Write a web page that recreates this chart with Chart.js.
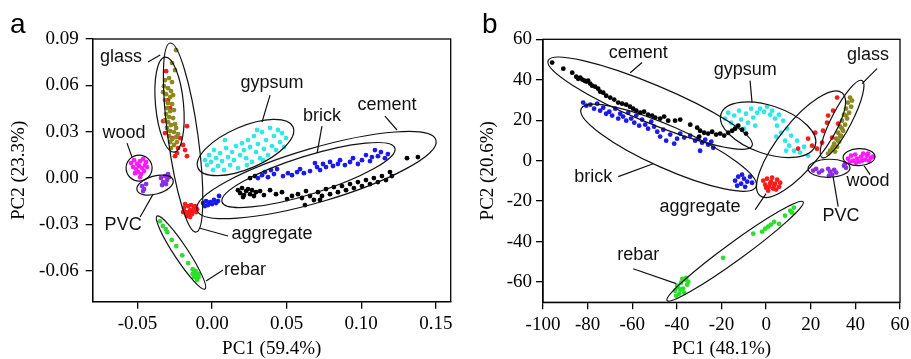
<!DOCTYPE html>
<html><head><meta charset="utf-8">
<script src="https://cdn.jsdelivr.net/npm/chart.js@4.4.1/dist/chart.umd.min.js"></script>
<style>
html,body{margin:0;padding:0;background:#fff;width:911px;height:359px;overflow:hidden}
canvas{position:absolute;top:0}
#ca{left:0;width:455px;height:359px}
#cb{left:455px;width:456px;height:359px}
</style></head><body>
<canvas id="ca" width="455" height="359"></canvas>
<canvas id="cb" width="456" height="359"></canvas>
<script>
// ---------- Panel a data (PC1 59.4%, PC2 23.3%) ----------
const aXTicks = [-0.05, 0, 0.05, 0.10, 0.15];
const aXTickLabels = ['-0.05', '0.00', '0.05', '0.10', '0.15'];
const aYTicks = [-0.06, -0.03, 0, 0.03, 0.06, 0.09];
const aYTickLabels = ['-0.06', '-0.03', '0.00', '0.03', '0.06', '0.09'];

const aGlass = [[-0.0241,0.0828],[-0.0268,0.0744],[-0.0248,0.0699],[-0.0315,0.0634],[-0.0288,0.0647],[-0.0268,0.0621],[-0.0322,0.0595],[-0.0295,0.0582],[-0.0275,0.0563],[-0.0308,0.0543],[-0.0281,0.0524],[-0.0261,0.0537],[-0.0315,0.0505],[-0.0295,0.0485],[-0.0268,0.0479],[-0.0302,0.0453],[-0.0281,0.0433],[-0.0255,0.0440],[-0.0308,0.0414],[-0.0288,0.0395],[-0.0261,0.0388],[-0.0295,0.0362],[-0.0275,0.0343],[-0.0248,0.0349],[-0.0302,0.0324],[-0.0281,0.0304],[-0.0255,0.0298],[-0.0288,0.0272],[-0.0268,0.0252],[-0.0241,0.0265],[-0.0281,0.0233],[-0.0255,0.0214],[-0.0275,0.0194],[-0.0235,0.0233],[-0.0328,0.0556],[-0.0241,0.0324],[-0.0315,0.0375],[-0.0228,0.0285]];
const aAggregate = [[-0.0308,0.0692],[-0.0295,0.0505],[-0.0281,0.0453],[-0.0328,0.0369],[-0.0315,0.0291],[-0.0168,0.0336],[-0.0194,0.0214],[-0.0235,0.0162],[-0.0168,0.0142],[-0.0248,0.0142],[-0.0268,0.0259],[-0.0214,0.0259],[-0.0228,0.0194],[-0.0181,0.0181],[-0.0188,-0.0194],[-0.0174,-0.0220],[-0.0161,-0.0181],[-0.0147,-0.0207],[-0.0134,-0.0233],[-0.0121,-0.0194],[-0.0107,-0.0220],[-0.0168,-0.0246],[-0.0141,-0.0175],[-0.0127,-0.0214],[-0.0154,-0.0226],[-0.0181,-0.0168],[-0.0114,-0.0181],[-0.0101,-0.0201],[-0.0147,-0.0252],[-0.0194,-0.0220]];
const aWood = [[-0.0543,0.0097],[-0.0523,0.0116],[-0.0503,0.0091],[-0.0482,0.0110],[-0.0462,0.0123],[-0.0442,0.0104],[-0.0529,0.0071],[-0.0509,0.0058],[-0.0489,0.0078],[-0.0469,0.0065],[-0.0449,0.0084],[-0.0496,0.0039],[-0.0476,0.0026],[-0.0456,0.0045],[-0.0516,0.0032],[-0.0482,0.0006],[-0.0436,0.0071]];
const aPVC = [[-0.0469,-0.0052],[-0.0456,-0.0071],[-0.0442,-0.0039],[-0.0462,-0.0084],[-0.0342,0.0000],[-0.0328,-0.0026],[-0.0315,0.0013],[-0.0302,-0.0013],[-0.0288,0.0006],[-0.0335,-0.0045],[-0.0308,-0.0039],[-0.0295,0.0026]];
const aGypsum = [[-0.0047,0.0116],[-0.0034,0.0084],[-0.0020,0.0149],[-0.0007,0.0104],[0.0007,0.0052],[0.0013,0.0181],[0.0027,0.0129],[0.0040,0.0078],[0.0054,0.0162],[0.0067,0.0110],[0.0080,0.0052],[0.0094,0.0194],[0.0107,0.0136],[0.0121,0.0084],[0.0134,0.0168],[0.0147,0.0116],[0.0161,0.0207],[0.0174,0.0065],[0.0188,0.0149],[0.0201,0.0226],[0.0214,0.0181],[0.0228,0.0129],[0.0241,0.0246],[0.0255,0.0201],[0.0268,0.0104],[0.0281,0.0272],[0.0295,0.0168],[0.0308,0.0220],[0.0322,0.0129],[0.0335,0.0298],[0.0348,0.0188],[0.0362,0.0246],[0.0375,0.0149],[0.0389,0.0324],[0.0402,0.0207],[0.0415,0.0272],[0.0429,0.0181],[0.0442,0.0311],[0.0456,0.0233],[0.0469,0.0291],[0.0482,0.0201],[0.0496,0.0259],[0.0302,0.0311],[0.0342,0.0116],[0.0234,0.0084],[0.0087,0.0246]];
const aBrick = [[-0.0060,-0.0162],[-0.0040,-0.0149],[-0.0027,-0.0175],[-0.0013,-0.0155],[0.0000,-0.0168],[0.0013,-0.0142],[0.0027,-0.0162],[0.0040,-0.0149],[-0.0047,-0.0181],[0.0047,-0.0116],[0.0308,0.0000],[0.0335,0.0019],[0.0355,0.0039],[0.0375,0.0006],[0.0395,0.0052],[0.0415,0.0026],[0.0436,0.0058],[0.0476,0.0013],[0.0509,0.0032],[0.0536,0.0019],[0.0570,0.0039],[0.0590,0.0058],[0.0616,0.0032],[0.0657,0.0045],[0.0690,0.0097],[0.0704,0.0071],[0.0724,0.0052],[0.0744,0.0091],[0.0764,0.0071],[0.0791,0.0104],[0.0811,0.0078],[0.0844,0.0091],[0.0858,0.0116],[0.0891,0.0084],[0.0925,0.0104],[0.0945,0.0129],[0.0978,0.0091],[0.1005,0.0116],[0.1032,0.0149],[0.1059,0.0110],[0.1072,0.0136],[0.1112,0.0142],[0.1132,0.0168],[0.1159,0.0129],[0.1179,0.0155],[0.1092,0.0181]];
const aCement = [[0.0174,-0.0078],[0.0188,-0.0097],[0.0201,-0.0065],[0.0214,-0.0110],[0.0228,-0.0084],[0.0241,-0.0071],[0.0255,-0.0104],[0.0268,-0.0078],[0.0281,-0.0116],[0.0208,-0.0123],[0.0295,-0.0091],[0.0322,-0.0084],[0.0348,-0.0110],[0.0389,-0.0078],[0.0429,-0.0104],[0.0469,-0.0091],[0.0503,-0.0136],[0.0536,-0.0116],[0.0576,-0.0104],[0.0603,-0.0129],[0.0630,-0.0084],[0.0657,-0.0116],[0.0683,-0.0142],[0.0710,-0.0091],[0.0737,-0.0116],[0.0764,-0.0071],[0.0791,-0.0104],[0.0817,-0.0058],[0.0844,-0.0091],[0.0871,-0.0052],[0.0898,-0.0078],[0.0925,-0.0039],[0.0951,-0.0065],[0.0978,-0.0026],[0.1005,-0.0052],[0.1032,-0.0013],[0.1059,-0.0039],[0.1085,0.0000],[0.1112,-0.0026],[0.1139,0.0013],[0.1166,-0.0013],[0.1193,0.0039],[0.1206,0.0013],[0.0623,-0.0175],[0.0724,-0.0142],[0.1307,0.0129],[0.1380,0.0136],[0.0255,0.0000],[0.0288,0.0013]];
const aRebar = [[-0.035,-0.028],[-0.033,-0.031],[-0.031,-0.033],[-0.030,-0.035],[-0.027,-0.040],[-0.024,-0.044],[-0.020,-0.050],[-0.016,-0.055],[-0.013,-0.059],[-0.012,-0.061],[-0.011,-0.062],[-0.010,-0.063],[-0.009,-0.062],[-0.012,-0.064],[-0.010,-0.065],[-0.011,-0.060],[-0.009,-0.064],[-0.013,-0.062],[-0.010,-0.066]];

// ---------- Panel b data (PC1 48.1%, PC2 20.6%) ----------
const bXTicks = [-100, -80, -60, -40, -20, 0, 20, 40, 60];
const bXTickLabels = ['-100', '-80', '-60', '-40', '-20', '0', '20', '40', '60'];
const bYTicks = [-60, -40, -20, 0, 20, 40, 60];
const bYTickLabels = ['-60', '-40', '-20', '0', '20', '40', '60'];

const bCement = [[-95.9,48.5],[-90.9,45.5],[-86.9,43.5],[-85.1,41.5],[-84.2,40.5],[-83.3,41.0],[-82.4,40.1],[-81.5,39.6],[-80.6,39.1],[-79.8,39.6],[-78.9,38.1],[-78.0,37.1],[-76.6,36.6],[-75.3,35.6],[-74.4,34.1],[-73.0,33.6],[-71.7,32.1],[-69.9,31.2],[-68.1,30.2],[-66.3,28.7],[-64.5,28.2],[-62.7,27.7],[-61.0,26.7],[-59.6,25.7],[-58.2,24.7],[-56.4,23.7],[-54.7,24.2],[-52.9,22.7],[-51.1,22.3],[-49.7,21.3],[-47.5,20.8],[-45.7,21.8],[-43.9,19.8],[-40.8,19.8],[-34.0,17.8],[-30.9,16.3],[-29.6,14.8],[-27.8,13.8],[-26.0,13.4],[-24.2,14.3],[-22.4,12.9],[-20.6,13.4],[-18.8,12.4],[-17.0,13.8],[-15.2,14.8],[-13.9,15.8],[-12.5,17.3],[-10.8,15.3],[-9.0,13.4],[-30.0,11.9],[-38.5,20.3]];
const bBrick = [[-82.0,28.7],[-80.6,27.2],[-78.8,27.7],[-77.1,25.7],[-75.7,28.2],[-74.4,24.7],[-73.0,26.2],[-71.7,23.2],[-70.3,24.2],[-69.0,22.3],[-67.6,25.7],[-66.3,20.8],[-65.4,23.2],[-64.1,21.8],[-62.7,19.8],[-61.8,23.7],[-60.5,20.8],[-59.1,18.8],[-58.2,22.3],[-56.9,17.3],[-55.6,20.3],[-54.2,17.8],[-52.9,15.8],[-51.5,19.3],[-50.2,16.8],[-48.8,14.3],[-47.5,11.9],[-46.1,15.3],[-44.8,9.9],[-43.0,12.9],[-41.2,8.4],[-39.9,10.9],[-38.5,13.4],[-36.7,11.4],[-34.0,12.4],[-31.8,9.9],[-30.5,10.9],[-28.7,8.9],[-27.3,10.4],[-26.0,7.9],[-24.6,9.4],[-23.7,6.4],[-29.6,4.9],[-13.9,-9.9],[-12.5,-7.9],[-11.2,-11.4],[-9.9,-8.9],[-8.5,-10.4],[-7.2,-7.9],[-9.4,-12.9],[-13.0,-12.4],[-6.3,-10.9],[-10.8,-6.9]];
const bGypsum = [[-18.4,20.8],[-17.0,23.7],[-15.7,18.8],[-14.3,22.3],[-13.4,16.8],[-12.1,24.7],[-11.2,20.3],[-9.9,15.8],[-9.0,23.2],[-8.1,18.8],[-6.7,25.7],[-5.8,21.3],[-4.9,17.3],[-4.0,23.7],[-2.7,25.7],[-0.9,24.2],[0.4,26.7],[2.7,24.7],[4.0,20.8],[4.9,17.3],[5.8,22.7],[6.7,13.8],[7.6,19.8],[8.5,9.9],[9.4,15.8],[10.3,7.4],[11.2,12.4],[12.5,4.9],[13.9,9.9],[15.2,4.0],[17.0,6.9],[18.8,2.5],[4.5,11.9],[9.0,4.9],[1.8,22.7]];
const bAggregate = [[-1.3,-9.9],[-0.4,-11.9],[0.4,-8.9],[1.3,-12.9],[2.2,-10.4],[3.1,-13.8],[4.0,-11.4],[4.9,-9.4],[5.8,-12.9],[0.9,-14.8],[2.7,-8.4],[4.5,-14.3],[6.3,-10.9],[0.0,-13.4],[3.6,-12.4],[1.8,-11.4],[31.8,31.2],[30.0,24.7],[27.3,18.8],[25.5,14.8],[22.0,13.8],[18.8,10.9],[14.3,5.9],[22.8,5.9],[25.1,8.9],[32.3,18.3],[29.6,11.4],[27.8,22.3],[20.6,7.4]];
const bGlass = [[37.6,31.2],[36.7,28.7],[38.1,26.7],[35.8,25.7],[37.2,23.7],[34.9,22.7],[36.3,20.8],[34.0,19.8],[35.4,17.8],[33.2,16.8],[34.5,14.8],[32.3,13.8],[33.6,12.4],[31.4,10.9],[32.7,9.4],[30.5,8.4],[31.8,6.9],[29.6,5.9],[30.9,4.5],[28.7,4.9],[27.8,3.5],[35.8,22.3],[34.0,15.8],[32.3,9.9],[38.5,29.7],[33.2,11.9],[30.0,6.9]];
const bWood = [[36.7,1.0],[38.1,2.5],[39.0,0.0],[39.9,3.0],[40.8,1.0],[41.7,-0.5],[42.6,2.0],[43.5,3.5],[44.4,0.5],[45.2,2.5],[46.1,0.0],[47.0,1.5],[37.6,-0.5],[40.3,-1.0],[43.0,0.0],[45.7,3.5],[47.9,2.0]];
const bPVC = [[21.1,-4.9],[22.4,-4.0],[23.7,-5.9],[27.8,-4.0],[28.7,-5.4],[29.6,-6.9],[30.5,-4.5],[31.4,-5.9],[28.2,-7.4],[34.9,-2.5],[35.8,-3.5],[35.4,-1.5],[25.1,-4.9]];
const bRebar = [[-40.8,-64.3],[-39.9,-61.8],[-39.0,-65.8],[-38.1,-60.3],[-37.2,-63.3],[-36.3,-58.8],[-35.4,-61.3],[-40.3,-66.8],[-38.5,-63.8],[-36.7,-65.3],[-35.8,-57.9],[-34.9,-59.8],[-39.4,-62.8],[-37.6,-58.4],[-19.3,-48.0],[-5.8,-36.1],[-1.8,-35.1],[-0.4,-33.6],[0.9,-32.6],[2.2,-31.6],[3.6,-30.2],[5.8,-31.2],[8.5,-27.2],[10.8,-24.7],[12.5,-23.2],[11.6,-25.7]];

// ---------- styles ----------
const COLORS = {glass:'#8a8a1e', aggregate:'#ff1a1a', wood:'#ff1aff', PVC:'#8a2ee6', gypsum:'#2ee8e8', brick:'#1a1aee', cement:'#000000', rebar:'#2be02b'};
const SERIF = '"Liberation Serif","Times New Roman",serif';
const SANS = '"Liberation Sans",Arial,sans-serif';

// ---------- annotation geometry (in data units; b = half-width in px) ----------
const aEllipses = [
  {p:[-0.0315,0.0783,-0.0255,0.0168], b:14},
  {p:[-0.0281,0.0874,-0.0107,-0.0349], b:15},
  {p:[-0.0576,0.0065,-0.0402,0.0065], b:13},
  {p:[-0.0503,-0.0078,-0.0261,-0.0013], b:9},
  {p:[-0.0094,0.0065,0.0543,0.0330], b:21},
  {p:[0.0067,-0.0155,0.1226,0.0194], b:19},
  {p:[-0.0101,-0.0207,0.1501,0.0246], b:27},
  {p:[-0.0369,-0.0246,-0.0047,-0.0718], b:7}
];
const aLabels = [
  {t:'glass', x:-0.061, y:0.0783, l:[-0.0429,0.0751,-0.0348,0.0796]},
  {t:'wood', x:-0.059, y:0.0291, l:[-0.0570,0.0226,-0.0536,0.0135]},
  {t:'PVC', x:-0.0596, y:-0.0304, l:[-0.0482,-0.0252,-0.0395,-0.0104]},
  {t:'aggregate', x:0.0402, y:-0.0362, l:[0.0107,-0.0375,-0.0087,-0.0323]},
  {t:'rebar', x:0.0221, y:-0.0595, l:[0.0074,-0.0595,-0.0040,-0.0666]},
  {t:'gypsum', x:0.0402, y:0.0615, l:[0.0389,0.0537,0.0335,0.0362]},
  {t:'brick', x:0.0737, y:0.0401, l:[0.0737,0.0336,0.0704,0.0162]},
  {t:'cement', x:0.1173, y:0.0472, l:[0.1159,0.0401,0.1240,0.0311]}
];
const bEllipses = [
  {p:[-97.7,49.5,-6.3,7.4], b:19},
  {p:[-82.9,25.7,-4.5,-12.9], b:21},
  {p:[-20.2,23.2,22.0,7.4], b:24},
  {p:[-2.7,-17.3,34.0,33.6], b:22},
  {p:[43.0,39.6,25.1,1.5], b:10},
  {p:[34.5,1.5,48.8,2.0], b:8.5},
  {p:[18.8,-4.0,37.6,-3.5], b:9},
  {p:[-44.4,-69.2,16.6,-20.3], b:9}
];
const bLabels = [
  {t:'cement', x:-57.3, y:53.4, l:[-55.6,48.5,-60.9,43.5]},
  {t:'gypsum', x:-9.4, y:45.0, l:[-7.2,39.6,-6.3,28.7]},
  {t:'glass', x:45.7, y:52.4, l:[49.7,45.5,43.0,38.1]},
  {t:'brick', x:-77.5, y:-7.9, l:[-66.3,-7.9,-50.6,-1.5]},
  {t:'aggregate', x:-29.6, y:-22.7, l:[-4.9,-24.2,0.0,-16.3]},
  {t:'wood', x:45.7, y:-9.9, l:[43.9,-2.5,46.6,-6.9]},
  {t:'PVC', x:33.6, y:-27.2, l:[30.0,-7.9,32.3,-22.7]},
  {t:'rebar', x:-57.3, y:-46.5, l:[-59.6,-53.4,-40.3,-60.8]}
];

function ds(label, pts){
  return {label, data: pts.map(p=>({x:p[0], y:p[1]})), backgroundColor: COLORS[label],
    borderWidth:0, pointRadius:2.4, pointHoverRadius:2.4};
}

function overlay(ellipses, labels, letter, letterX){
  return {id:'overlay', afterDatasetsDraw(chart){
    const ctx = chart.ctx, xs = chart.scales.x, ys = chart.scales.y, ca = chart.chartArea;
    ctx.save();
    ctx.strokeStyle = '#111'; ctx.lineWidth = 1.2;
    ellipses.forEach(e=>{
      const x1 = xs.getPixelForValue(e.p[0]), y1 = ys.getPixelForValue(e.p[1]);
      const x2 = xs.getPixelForValue(e.p[2]), y2 = ys.getPixelForValue(e.p[3]);
      const a = Math.hypot(x2-x1, y2-y1)/2, ang = Math.atan2(y2-y1, x2-x1);
      ctx.beginPath(); ctx.ellipse((x1+x2)/2, (y1+y2)/2, Math.max(a, e.b), e.b, ang, 0, 2*Math.PI); ctx.stroke();
    });
    ctx.fillStyle = '#111'; ctx.font = '18px ' + SANS; ctx.textAlign = 'center'; ctx.textBaseline = 'middle';
    labels.forEach(l=>{
      ctx.beginPath();
      ctx.moveTo(xs.getPixelForValue(l.l[0]), ys.getPixelForValue(l.l[1]));
      ctx.lineTo(xs.getPixelForValue(l.l[2]), ys.getPixelForValue(l.l[3]));
      ctx.stroke();
      ctx.fillText(l.t, xs.getPixelForValue(l.x), ys.getPixelForValue(l.y));
    });
    ctx.strokeStyle = '#000'; ctx.lineWidth = 1.3;
    ctx.strokeRect(ca.left, ca.top, ca.right-ca.left, ca.bottom-ca.top);
    ctx.fillStyle = '#000'; ctx.font = '28px ' + SANS; ctx.textAlign = 'left'; ctx.textBaseline = 'alphabetic';
    ctx.fillText(letter, letterX, 33);
    ctx.restore();
  }};
}

function axis(min, max, vals, labels, title, isY, size, tickPad, titlePad){
  return {
    type:'linear', min, max,
    border:{display:true, color:'#000', width:1.3},
    grid:{display:true, drawOnChartArea:false, drawTicks:true, tickLength:7, color:'#000', lineWidth:1.3},
    ticks:{color:'#000', font:{family:SERIF, size:19}, padding:tickPad, maxRotation:0, autoSkip:false,
      callback:(v,i)=>labels[i]},
    title:{display:true, text:title, color:'#000', font:{family:SERIF, size:19, lineHeight:1}, padding:titlePad},
    afterBuildTicks(s){ s.ticks = vals.map(v=>({value:v})); },
    afterFit(s){ if(isY) s.width = size; else s.height = size; s.paddingLeft=0; s.paddingRight=0; s.paddingTop=0; s.paddingBottom=0; }
  };
}

function makeChart(id, datasets, xAx, yAx, pad, ov){
  return new Chart(document.getElementById(id), {
    type:'scatter',
    data:{datasets},
    options:{responsive:false, animation:false, devicePixelRatio:1,
      layout:{padding:pad},
      plugins:{legend:{display:false}, tooltip:{enabled:false}},
      scales:{x:xAx, y:yAx}},
    plugins:[ov]
  });
}

makeChart('ca',
  [ds('glass',aGlass), ds('aggregate',aAggregate), ds('wood',aWood), ds('PVC',aPVC), ds('gypsum',aGypsum), ds('brick',aBrick), ds('cement',aCement), ds('rebar',aRebar)],
  axis(-0.08, 0.16, aXTicks, aXTickLabels, 'PC1 (59.4%)', false, 57.3, 4, {top:0,bottom:0}),
  axis(-0.08, 0.09, aYTicks, aYTickLabels, 'PC2 (23.3%)', true, 92.7, 7, {top:10,bottom:0}),
  {left:0, right:4.3, top:39, bottom:0},
  overlay(aEllipses, aLabels, 'a', 10));

makeChart('cb',
  [ds('cement',bCement), ds('brick',bBrick), ds('gypsum',bGypsum), ds('aggregate',bAggregate), ds('glass',bGlass), ds('wood',bWood), ds('PVC',bPVC), ds('rebar',bRebar)],
  axis(-100, 60, bXTicks, bXTickLabels, 'PC1 (48.1%)', false, 56.7, 4, {top:0,bottom:0}),
  axis(-70, 60, bYTicks, bYTickLabels, 'PC2 (20.6%)', true, 88, 4, {top:24,bottom:0}),
  {left:0, right:11, top:39.3, bottom:0},
  overlay(bEllipses, bLabels, 'b', 27));
</script>
</body></html>
